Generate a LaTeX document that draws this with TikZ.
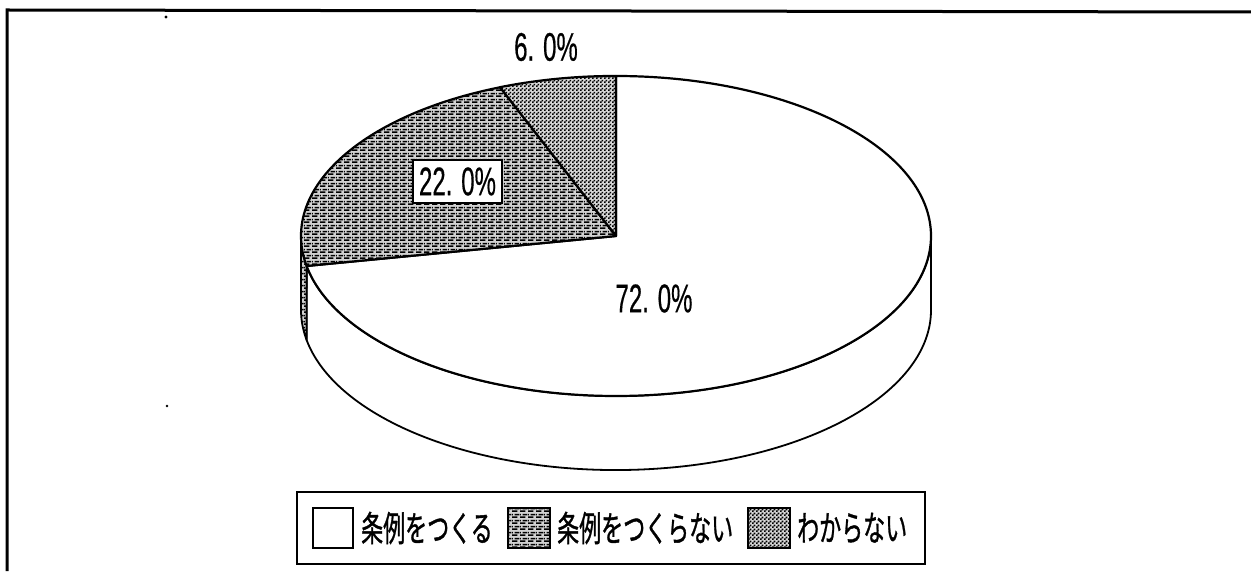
\documentclass[tikz,border=0pt]{standalone}
\usepackage{fontspec}
\usepackage{graphicx}
\usetikzlibrary{patterns}
\newfontfamily\jpfont[FakeBold=1.2]{Noto Sans CJK JP}
\newfontfamily\numfont[FakeBold=0.6]{Liberation Sans}
\newcommand{\numtxt}[1]{{\numfont\fontsize{30}{30}\selectfont\scalebox{0.8}[1.33]{#1}}}
\newcommand{\jptxt}[1]{{\jpfont\fontsize{22}{22}\selectfont\scalebox{1}[1.6]{#1}}}
\pgfdeclarepatternformonly{hatchA}{\pgfqpoint{0pt}{0pt}}{\pgfqpoint{8pt}{6pt}}{\pgfqpoint{8pt}{6pt}}{%
  \pgfpathrectangle{\pgfqpoint{0pt}{0pt}}{\pgfqpoint{6pt}{1.8pt}}%
  \pgfpathrectangle{\pgfqpoint{3pt}{3pt}}{\pgfqpoint{5pt}{1.8pt}}%
  \pgfpathrectangle{\pgfqpoint{0pt}{3pt}}{\pgfqpoint{1pt}{1.8pt}}%
  \pgfusepath{fill}}
\pgfdeclarepatternformonly{checkB}{\pgfqpoint{0pt}{0pt}}{\pgfqpoint{4pt}{4pt}}{\pgfqpoint{4pt}{4pt}}{%
  \pgfpathrectangle{\pgfqpoint{0pt}{0pt}}{\pgfqpoint{2pt}{2pt}}%
  \pgfpathrectangle{\pgfqpoint{2pt}{2pt}}{\pgfqpoint{2pt}{2pt}}%
  \pgfusepath{fill}}
\tikzset{
  pieline/.style={draw=black, line width=2.2pt, line join=round},
  sideline/.style={draw=black, line width=1.8pt, line join=round},
  hatchfill/.style={fill=black!18, postaction={pattern=hatchA}},
  checkfill/.style={fill=black!16, postaction={pattern=checkB}},
  lbl/.style={inner sep=0pt},
  legbox/.style={draw=black, line width=1.8pt},
  swatch/.style={draw=black, line width=2pt, minimum width=40pt, minimum height=40pt, inner sep=0pt},
  legtext/.style={inner sep=0pt, anchor=west},
  frameline/.style={draw=black, line width=3pt}
}
\begin{document}
\begin{tikzpicture}[x=1pt,y=1pt]
\useasboundingbox (0,0) rectangle (1251,571);
\fill[white] (0,0) rectangle (1251,571);
% frame
\coordinate (fTL) at (7,561);
\coordinate (fTR) at (1251,559);
\coordinate (fBL) at (7,0);
\draw[frameline] (fTR) -- (fTL) -- (fBL);
% scan dots
\fill (166,554) circle (1.6);
\fill (167,165) circle (1.3);
% pie geometry
\coordinate (C) at (616,335);
\coordinate (P90) at (616,495);
\coordinate (P1908) at (306.6,305.0);
\coordinate (P1116) at (500.0,483.8);
\coordinate (P180) at (301,335);
\coordinate (P0) at (931,335);
% side 72%
\path[fill=white, sideline] (P1908) -- ++(0,-74)
  arc[start angle=190.8, end angle=360, x radius=315, y radius=160]
  -- (P0)
  arc[start angle=0, end angle=-169.2, x radius=315, y radius=160] -- cycle;
% side 22%
\path[hatchfill] (P180) -- ++(0,-74)
  arc[start angle=180, end angle=190.8, x radius=315, y radius=160]
  -- (P1908)
  arc[start angle=190.8, end angle=180, x radius=315, y radius=160] -- cycle;
\path[sideline] (P180) -- ++(0,-74)
  arc[start angle=180, end angle=190.8, x radius=315, y radius=160]
  -- (P1908);
% top 72%
\path[fill=white, pieline] (C) -- (P90)
  arc[start angle=90, end angle=-169.2, x radius=315, y radius=160] -- cycle;
% top 22%
\path[hatchfill] (C) -- (P1908)
  arc[start angle=190.8, end angle=111.6, x radius=315, y radius=160] -- cycle;
\path[pieline] (C) -- (P1908)
  arc[start angle=190.8, end angle=111.6, x radius=315, y radius=160] -- cycle;
% top 6%
\path[checkfill] (C) -- (P1116)
  arc[start angle=111.6, end angle=90, x radius=315, y radius=160] -- cycle;
\path[pieline] (C) -- (P1116)
  arc[start angle=111.6, end angle=90, x radius=315, y radius=160] -- cycle;
% labels
\node[lbl] (l6) at (546,524) {\numtxt{6. 0\%}};
\node[draw=black, line width=2pt, fill=white, minimum width=89pt, minimum height=43pt, inner sep=0pt] (l22) at (457.5,389.5) {\numtxt{22. 0\%}};
\node[lbl] (l72) at (654,272.5) {\numtxt{72. 0\%}};
% legend
\node[legbox, minimum width=628pt, minimum height=72pt, inner sep=0pt] (leg) at (611,43) {};
\node[swatch, fill=white] (s1) at (333,43) {};
\node[legtext] (t1) at (361,43) {\jptxt{条例をつくる}};
\node[swatch, hatchfill, line width=2.6pt, minimum width=42pt] (s2) at (529,43) {};
\node[legtext] (t2) at (557,43) {\jptxt{条例をつくらない}};
\node[swatch, checkfill, line width=2.6pt, minimum width=42pt] (s3) at (769,43) {};
\node[legtext] (t3) at (797,43) {\jptxt{わからない}};
\end{tikzpicture}
\end{document}
